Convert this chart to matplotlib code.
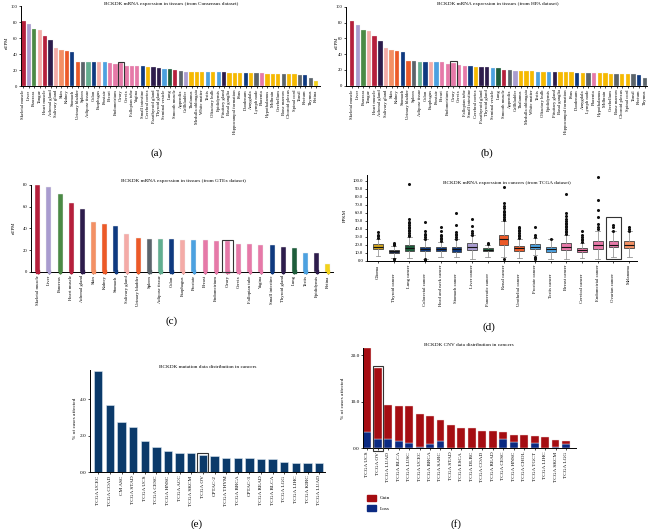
import matplotlib
matplotlib.use("Agg")
import matplotlib.pyplot as plt
from matplotlib.patches import Rectangle, Patch
from matplotlib.transforms import ScaledTranslation

plt.rcParams['font.family'] = ['Liberation Serif', 'DejaVu Serif']

# ---------------- data ----------------
consensus_tissues = [
    "Skeletal muscle", "Liver", "Pancreas", "Tongue", "Heart muscle", "Adrenal gland",
    "Salivary gland", "Skin", "Kidney", "Stomach", "Urinary bladder", "Spleen",
    "Adipose tissue", "Colon", "Esophagus", "Prostate", "Breast", "Endometrium",
    "Ovary", "Cervix", "Fallopian tube", "Vagina", "Small intestine", "Cerebral cortex",
    "Parathyroid gland", "Thyroid gland", "Seminal vesicle", "Lung", "Smooth muscle",
    "Appendix", "Gallbladder", "Thalamus", "Medulla oblongata", "White matter", "Testis",
    "Olfactory bulb", "Epididymis", "Pituitary gland", "Basal ganglia",
    "Hippocampal formation", "Pons", "Duodenum", "Amygdala", "Lymph node", "Placenta",
    "Hypothalamus", "Midbrain", "Cerebellum", "Bone marrow", "Choroid plexus",
    "Spinal cord", "Tonsil", "Rectum", "Thymus", "Retina"]
consensus_ntpm = [
    81.7, 77.1, 70.8, 70.0, 62.5, 57.1, 47.1, 45.4, 44.2, 42.5, 30.4, 30.4, 30.0,
    29.6, 29.6, 29.6, 29.2, 27.9, 28.5, 25.4, 25.0, 25.0, 24.6, 24.2, 23.3, 22.9,
    21.7, 21.7, 19.6, 19.2, 17.9, 17.9, 17.9, 17.5, 17.1, 17.1, 17.1, 17.1, 16.7,
    16.7, 16.7, 16.7, 15.8, 15.8, 15.8, 15.4, 15.4, 15.0, 15.0, 14.6, 14.6, 14.2,
    13.3, 10.0, 6.7]

hpa_tissues = [
    "Skeletal muscle", "Liver", "Pancreas", "Tongue", "Heart muscle", "Adrenal gland",
    "Salivary gland", "Skin", "Kidney", "Stomach", "Urinary bladder", "Spleen",
    "Adipose tissue", "Colon", "Esophagus", "Prostate", "Breast", "Endometrium",
    "Ovary", "Cervix", "Fallopian tube", "Small intestine", "Cerebral cortex",
    "Parathyroid gland", "Thyroid gland", "Seminal vesicle", "Lung", "Smooth muscle",
    "Appendix", "Gallbladder", "Thalamus", "Medulla oblongata", "White matter", "Testis",
    "Olfactory bulb", "Epididymis", "Pituitary gland", "Basal ganglia",
    "Hippocampal formation", "Pons", "Duodenum", "Amygdala", "Lymph node", "Placenta",
    "Hypothalamus", "Midbrain", "Cerebellum", "Bone marrow", "Choroid plexus",
    "Spinal cord", "Tonsil", "Rectum", "Thymus"]
hpa_ntpm = [
    81.4, 76.8, 70.5, 69.6, 62.4, 57.0, 47.3, 45.1, 43.9, 42.2, 30.8, 30.8, 30.4,
    30.0, 30.0, 29.5, 29.5, 27.8, 28.3, 25.7, 25.3, 24.5, 24.1, 23.2, 23.2, 21.9,
    21.9, 19.8, 19.4, 18.1, 18.6, 18.6, 18.1, 17.7, 17.7, 17.3, 17.3, 16.9, 16.9,
    16.9, 16.5, 16.0, 16.0, 15.6, 15.6, 15.6, 15.2, 14.8, 14.8, 14.8, 14.3, 13.5, 10.1]

gtex_tissues = [
    "Skeletal muscle", "Liver", "Pancreas", "Heart muscle", "Adrenal gland", "Skin",
    "Kidney", "Stomach", "Salivary gland", "Urinary bladder", "Spleen", "Adipose tissue",
    "Colon", "Esophagus", "Prostate", "Breast", "Endometrium", "Ovary", "Cervix",
    "Fallopian tube", "Vagina", "Small intestine", "Thyroid gland", "Lung", "Testis",
    "Epididymis", "Retina"]
gtex_ntpm = [
    79.7, 77.8, 71.6, 63.2, 57.6, 45.8, 44.2, 42.6, 35.2, 30.8, 30.5, 30.2, 29.9,
    29.6, 29.6, 29.3, 28.3, 28.0, 25.8, 25.2, 24.9, 24.6, 23.0, 22.1, 17.4, 16.8, 7.0]

tcga_cancers = [
    "Glioma", "Thyroid cancer", "Lung cancer", "Colorectal cancer",
    "Head and neck cancer", "Stomach cancer", "Liver cancer", "Pancreatic cancer",
    "Renal cancer", "Urothelial cancer", "Prostate cancer", "Testis cancer",
    "Breast cancer", "Cervical cancer", "Endometrial cancer", "Ovarian cancer",
    "Melanoma"]
fpkm_median = [18, 12.5, 16, 14.5, 14.5, 14.5, 17.5, 14, 27, 16, 18, 14.5, 18, 14, 20, 20.5, 20.5]
fpkm_q1 = [15, 10.5, 13, 12, 12, 11, 14, 12, 20, 13, 15.5, 11, 14, 11, 15, 17, 16]
fpkm_q3 = [21, 14, 20, 18, 17, 18, 22, 16, 33, 19, 21, 18, 22, 16, 25, 25, 24.5]
fpkm_low = [6, 4, 4, 3, 5, 5, 3, 5, 5, 4, 8, 2, 3, 4, 3, 5, 5]
fpkm_high = [28, 19, 30, 27, 24, 27, 32, 20, 50, 28, 29, 27, 33, 23, 38, 37, 37]
fpkm_outliers = [
    [29, 31, 33, 36],
    [2, 3, 20, 21, 22],
    [31, 33, 35, 37, 39, 41, 43, 45, 47, 49, 52, 96],
    [1, 2, 28, 30, 32, 34, 37, 49],
    [25, 27, 29, 31, 33, 38, 42],
    [28, 30, 32, 34, 36, 45, 60],
    [33, 35, 38, 44, 53],
    [21, 22],
    [2, 51, 53, 55, 57, 59, 61, 63, 66, 69, 72, 93],
    [29, 31, 33, 35, 37, 39, 41, 43],
    [3, 4, 5, 30, 32, 42],
    [27],
    [34, 36, 38, 40, 42, 44, 46, 48, 50, 53, 56, 60, 84],
    [24, 26, 28, 30, 33, 38],
    [40, 42, 46, 55, 64, 76, 105],
    [38, 42, 45],
    [38, 40, 42]]

mut_studies = [
    "TCGA UCEC", "TCGA COAD", "CM ASC", "TCGA STAD", "TCGA UCS", "TCGA CESC",
    "TCGA HNSC", "TCGA ACC", "TCGA SKCM", "TCGA OV", "CPTAC-2", "TCGA THYM",
    "TCGA BRCA", "CPTAC-3", "TCGA READ", "TCGA BLCA", "TCGA LGG", "TCGA LIHC",
    "TCGA KIRC", "TCGA LUAD"]
mut_pct = [5.55, 3.7, 2.74, 2.47, 1.7, 1.35, 1.16, 1.06, 1.02, 0.91, 0.89, 0.78,
           0.78, 0.75, 0.69, 0.69, 0.56, 0.51, 0.51, 0.49]

cnv_studies = [
    "TCGA UCS", "TCGA OV", "TCGA LUAD", "TCGA BLCA", "TCGA LUSC", "TCGA UCEC",
    "TCGA BRCA", "TCGA SARC", "TCGA STAD", "TCGA ESCA", "TCGA DLBC", "TCGA COAD",
    "TCGA READ", "TCGA CESC", "TCGA HNSC", "TCGA CHOL", "TCGA TGCT", "TCGA LIHC",
    "TCGA SKCM", "TCGA LGG"]
cnv_total = [21.5, 17.3, 9.3, 9.1, 9.0, 7.4, 6.9, 6.1, 4.9, 4.4, 4.3, 3.8, 3.7,
             3.5, 2.9, 2.8, 2.7, 2.4, 1.8, 1.5]
cnv_loss = [3.6, 2.0, 1.9, 1.5, 1.1, 0.2, 0.9, 1.5, 0.1, 0, 0, 0, 0, 2.0, 1.3,
            0, 1.1, 0, 0.3, 0.9]
cnv_gain = [t - l for t, l in zip(cnv_total, cnv_loss)]

# ---------------- colours ----------------
CR, LV, GR, LP = '#b51f3b', '#a99ccf', '#4b8a45', '#f4aba7'
DP, SA, OR, NV = '#2d1c4c', '#f39064', '#ec5a28', '#0f3a80'
GY, TL, BL, PK = '#5b646b', '#62ae90', '#4ca1e0', '#e679a8'
YE, DG, RY = '#f6b900', '#1e5d3b', '#f3d21a'
consensus_colors = [
    CR, LV, GR, LP, CR, DP, LP, SA, OR, NV, OR, GY, TL, NV, LP, BL, PK, PK, PK, PK,
    PK, PK, NV, YE, DP, DP, BL, DG, CR, GY, LV, YE, YE, YE, BL, YE, BL, DP, YE, YE,
    YE, NV, YE, GY, PK, YE, YE, YE, GY, YE, YE, GY, NV, GY, RY]
palette = dict(zip(consensus_tissues, consensus_colors))
hpa_colors = [palette[t] for t in hpa_tissues]
gtex_colors = [palette[t] for t in gtex_tissues]
gtex_colors[gtex_tissues.index("Epididymis")] = DP
box_colors = ['#cfa21c', '#17213f', DG, NV, NV, NV, LV, DG, OR, OR, BL, BL,
              PK, PK, PK, PK, SA]
GAIN, LOSS, MUT = '#a50d12', '#0b2a82', '#0b3a6a'

W, H = 648, 529
fig = plt.figure(figsize=(W / 100, H / 100), dpi=100)


def px_axes(l, t, r, b):
    return fig.add_axes([l / W, 1 - b / H, (r - l) / W, (b - t) / H])


def style(ax, fs=3.3):
    for s in ('top', 'right'):
        ax.spines[s].set_visible(False)
    for s in ('left', 'bottom'):
        ax.spines[s].set_linewidth(0.7)
    ax.tick_params(length=1.5, width=0.5, pad=1, labelsize=fs)
    ax.set_facecolor('none')


def ftext(x, y, s, size, **kw):
    fig.text(x / W, 1 - y / H, s, fontsize=size, ha='center', va='center', **kw)


def box(ax, x0, x1, y0, y1):
    ax.add_patch(Rectangle((x0, y0), x1 - x0, y1 - y0, fill=False, ec='#333333',
                           lw=0.8, clip_on=False, zorder=5))


# (a) consensus
ax = px_axes(21, 6, 320, 86)
ax.bar(range(len(consensus_ntpm)), consensus_ntpm, width=0.78, color=consensus_colors,
       edgecolor='#f2f2f2', linewidth=0.2)
ax.set_xlim(-0.45, len(consensus_ntpm) - 0.3)
ax.set_ylim(0, 100)
ax.set_yticks([0, 20, 40, 60, 80, 100])
ax.set_xticks(range(len(consensus_tissues)))
ax.set_xticklabels(consensus_tissues, rotation=90)
style(ax)
i = consensus_tissues.index("Ovary")
box(ax, i - 0.55, i + 0.55, 0, 29.6)
ftext(171, 3.5, "BCKDK mRNA expression in tissues (from Consensus dataset)", 3.8)
ftext(7, 43, "nTPM", 3.5, rotation=90)
ftext(157, 153, "(a)", 8)

# (b) HPA
ax = px_axes(346, 6.7, 647, 85.7)
ax.bar(range(len(hpa_ntpm)), hpa_ntpm, width=0.78, color=hpa_colors,
       edgecolor='#f2f2f2', linewidth=0.2)
ax.set_xlim(-1.1, len(hpa_ntpm) - 0.6)
ax.set_ylim(0, 100)
ax.set_yticks([0, 20, 40, 60, 80, 100])
ax.set_xticks(range(len(hpa_tissues)))
ax.set_xticklabels(hpa_tissues, rotation=90)
style(ax)
i = hpa_tissues.index("Ovary")
box(ax, i - 0.6, i + 0.6, 0, 30.8)
ftext(498, 4.3, "BCKDK mRNA expression in tissues (from HPA dataset)", 3.8)
ftext(337, 43, "nTPM", 3.5, rotation=90)
ftext(487, 153, "(b)", 8)

# (c) GTEx
ax = px_axes(31, 185, 333, 271.7)
ax.bar(range(len(gtex_ntpm)), gtex_ntpm, width=0.45, color=gtex_colors,
       edgecolor='#eeeeee', linewidth=0.3)
# coloured markers where each bar meets the axis
ax.scatter(range(len(gtex_ntpm)), [0] * len(gtex_ntpm), s=3, c=gtex_colors,
           marker='s', clip_on=False, zorder=4)
ax.set_xlim(-0.6, len(gtex_ntpm) - 0.54)
ax.set_ylim(0, 80)
ax.set_yticks([0, 20, 40, 60, 80])
ax.set_xticks(range(len(gtex_tissues)))
ax.set_xticklabels(gtex_tissues, rotation=90)
style(ax, 3.4)
i = gtex_tissues.index("Ovary")
box(ax, i - 0.52, i + 0.52, 0, 29.3)
ftext(183, 181.3, "BCKDK mRNA expression in tissues (from GTEx dataset)", 3.8)
ftext(14, 228, "nTPM", 3.5, rotation=90)
ftext(172, 321, "(c)", 8)

# (d) TCGA boxplot
ax = px_axes(366.7, 175, 637, 261)
stats = [dict(med=m, q1=a, q3=b, whislo=lo, whishi=hi, fliers=f)
         for m, a, b, lo, hi, f in zip(fpkm_median, fpkm_q1, fpkm_q3, fpkm_low,
                                       fpkm_high, fpkm_outliers)]
bp = ax.bxp(stats, positions=range(len(stats)), widths=0.62, patch_artist=True,
            boxprops=dict(linewidth=0.6, edgecolor='#444444'),
            medianprops=dict(color='#111111', linewidth=0.8),
            whiskerprops=dict(color='#999999', linewidth=0.6),
            capprops=dict(color='#999999', linewidth=0.6),
            flierprops=dict(marker='o', markersize=1.2, markerfacecolor='#111111',
                            markeredgecolor='#111111', linestyle='none'))
for patch, c in zip(bp['boxes'], box_colors):
    patch.set_facecolor(c)
ax.set_xlim(-0.72, len(stats) - 0.5)
ax.set_ylim(0, 107.5)
ax.set_yticks(range(0, 101, 10))
ax.set_yticklabels([f"{v:.1f}" for v in range(0, 101, 10)])
ax.set_xticks(range(len(tcga_cancers)))
ax.set_xticklabels(tcga_cancers, rotation=90)
style(ax, 3.4)
for k, lab in enumerate(ax.get_xticklabels()):
    if k % 2 == 1:
        lab.set_transform(lab.get_transform() +
                          ScaledTranslation(0, -9 / 100, fig.dpi_scale_trans))
i = tcga_cancers.index("Ovarian cancer")
box(ax, i - 0.5, i + 0.5, 3, 55)
ftext(507, 183, "BCKDK mRNA expression in cancers (from TCGA dataset)", 3.8)
ftext(345, 215, "FPKM", 3.5, rotation=90)
ftext(489, 327, "(d)", 8)

# (e) mutation
ax = px_axes(90, 370, 325, 472)
ax.bar(range(len(mut_pct)), mut_pct, width=0.72, color=MUT, edgecolor='#dce6f0',
       linewidth=0.4)
ax.set_xlim(-0.71, len(mut_pct) - 0.5)
ax.set_ylim(0, 5.6)
ax.set_yticks([0, 2, 4])
ax.set_yticklabels(["0.0", "2.0", "4.0"])
ax.set_xticks(range(len(mut_studies)))
ax.set_xticklabels(mut_studies, rotation=90)
style(ax, 3.8)
i = mut_studies.index("TCGA OV")
box(ax, i - 0.5, i + 0.45, 0, 1.06)
ftext(208, 366.7, "BCKDK mutation data distribution in cancers", 3.8)
ftext(75, 418, "% of cases affected", 3.8, rotation=90)
ftext(197, 524, "(e)", 8)

# (f) CNV
ax = px_axes(363, 347.7, 575.7, 448.3)
xs = range(len(cnv_total))
ax.bar(xs, cnv_loss, width=0.76, color=LOSS, edgecolor='#f0dada', linewidth=0.3)
ax.bar(xs, cnv_gain, bottom=cnv_loss, width=0.76, color=GAIN, edgecolor='#f0dada',
       linewidth=0.3)
ax.set_xlim(-0.41, len(cnv_total) - 0.07)
ax.set_ylim(0, 21.6)
ax.set_yticks([0, 10, 20])
ax.set_yticklabels(["0.0", "10.0", "20.0"])
ax.set_xticks(list(xs))
ax.set_xticklabels(cnv_studies, rotation=90)
style(ax, 3.8)
i = cnv_studies.index("TCGA OV")
box(ax, i - 0.5, i + 0.5, -0.5, 17.7)
ftext(469, 345, "BCKDK CNV data distribution in cancers", 3.8)
ftext(343, 398, "% of cases affected", 3.8, rotation=90)
ftext(456, 524, "(f)", 8)
ax.legend(handles=[Patch(color=GAIN, label='Gain'), Patch(color=LOSS, label='Loss')],
          loc='upper left', bbox_to_anchor=(362 / W, 1 - 490 / H),
          bbox_transform=fig.transFigure, frameon=False, fontsize=3.8,
          handlelength=1.8, handleheight=1.3, labelspacing=0.9, handletextpad=0.6)

fig.savefig("out.png", dpi=100)
